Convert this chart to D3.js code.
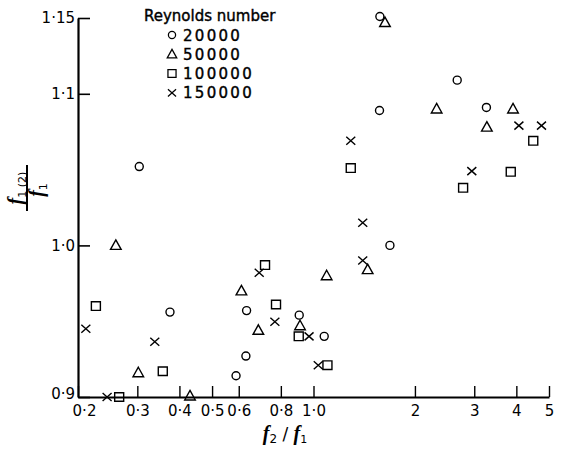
<html>
<head>
  <script src="https://cdn.jsdelivr.net/npm/d3@7"></script>
  <style>
    body { margin: 0; background: #fff; }
    text { font-family: "DejaVu Sans", sans-serif; fill: #000; }
  </style>
</head>
<body>

<svg class="chart" width="563" height="449"></svg>

<script>
  // values: [f2/f1, f1(2)/f1]
  var re20000 = [[0.304, 1.052], [0.375, 0.956], [0.589, 0.914], [0.630, 0.927], [0.633, 0.957],
    [0.907, 0.954], [1.076, 0.940], [1.574, 1.151], [1.57, 1.089], [1.686, 1.0], [2.67, 1.109], [3.26, 1.091]];
  var re50000 = [[0.259, 1.0], [0.302, 0.916], [0.430, 0.9007], [0.611, 0.970], [0.686, 0.944],
    [0.912, 0.947], [1.094, 0.980], [1.448, 0.984], [1.63, 1.147], [2.32, 1.090], [3.27, 1.078], [3.91, 1.090]];
  var re100000 = [[0.226, 0.960], [0.265, 0.9], [0.357, 0.917], [0.718, 0.987], [0.774, 0.961],
    [0.904, 0.940], [1.10, 0.921], [1.29, 1.051], [2.78, 1.038], [3.85, 1.0485], [4.49, 1.069]];
  var re150000 = [[0.211, 0.945], [0.244, 0.9], [0.338, 0.9365], [0.690, 0.982], [0.768, 0.9496],
    [0.970, 0.940], [1.033, 0.921], [1.29, 1.069], [1.40, 1.015], [1.40, 0.990], [2.95, 1.049],
    [4.07, 1.079], [4.75, 1.079]];

  var seriesNames = ['20000', '50000', '100000', '150000'];
  var seriesShapes = ['circle', 'triangle', 'square', 'cross'];
  var xTicks = [0.2, 0.3, 0.4, 0.5, 0.6, 0.8, 1, 2, 3, 4, 5];
  var yTicks = [0.9, 1.0, 1.1, 1.15];
  var yTickLabels = ['0·9', '1·0', '1·1', '1·15'];

  var svg = d3.select('svg.chart');
  svg.append('rect').attr('width', 563).attr('height', 449).attr('fill', '#fff');

  var x = d3.scaleLog().domain([0.2, 5]).range([78, 549]);
  var y = d3.scaleLinear().domain([0.9, 1.15]).range([397, 18]);

  // shape paths, centred on 0,0
  function shapePath(s) {
    if (s === 'circle') return 'M4,0A4,4 0 1,1 -4,0A4,4 0 1,1 4,0Z';
    if (s === 'triangle') return 'M0,-5.5L5.3,4L-5.3,4Z';
    if (s === 'square') return 'M-4.5,-4.3H4.5V4.3H-4.5Z';
    return 'M-4.5,-4L4.5,4M-4.5,4L4.5,-4';
  }

  var xAxis = d3.axisBottom(x)
    .tickValues(xTicks)
    .tickSizeInner(-11)
    .tickSizeOuter(0)
    .tickPadding(8)
    .tickFormat(function(d) { return d < 2 ? d3.format('.1f')(d).replace('.', '·') : String(d); });

  var gx = svg.append('g').attr('transform', 'translate(0,' + y(0.9) + ')').call(xAxis);
  gx.select('.domain').attr('stroke-width', 2.2);
  gx.selectAll('.tick line').attr('stroke-width', 1.4);
  gx.selectAll('.tick text').attr('font-size', 15).attr('font-family', 'DejaVu Sans')
    .attr('dx', function(d) { return d === 0.2 ? 6 : 0; });

  var yAxis = d3.axisLeft(y)
    .tickValues(yTicks)
    .tickSizeInner(-12)
    .tickSizeOuter(0)
    .tickPadding(3)
    .tickFormat(function(d, i) { return yTickLabels[i]; });

  var gy = svg.append('g').attr('transform', 'translate(' + x(0.2) + ',0)').call(yAxis);
  gy.select('.domain').attr('stroke-width', 2.2);
  gy.selectAll('.tick line').attr('stroke-width', 1.6);
  gy.selectAll('.tick text').attr('font-size', 15).attr('font-family', 'DejaVu Sans')
    .attr('y', function(d) { return d === 0.9 ? -3 : 0; });

  // points
  [re20000, re50000, re100000, re150000].forEach(function(data, i) {
    svg.append('g').selectAll('path')
      .data(data)
      .enter()
      .append('path')
      .attr('d', shapePath(seriesShapes[i]))
      .attr('transform', function(d) { return 'translate(' + x(d[0]) + ',' + y(d[1]) + ')'; })
      .attr('fill', 'none')
      .attr('stroke', '#000')
      .attr('stroke-width', 1.4);
  });

  // legend
  var legend = svg.append('g');
  legend.append('text')
    .attr('x', 144).attr('y', 21)
    .attr('font-size', 15)
    .attr('stroke', '#000').attr('stroke-width', 0.4)
    .text('Reynolds number');
  seriesNames.forEach(function(name, i) {
    var ly = 35 + i * 19.3;
    legend.append('path')
      .attr('d', shapePath(seriesShapes[i]))
      .attr('transform', 'translate(172,' + ly + ') scale(0.9)')
      .attr('fill', 'none').attr('stroke', '#000').attr('stroke-width', 1.4);
    legend.append('text')
      .attr('x', 183).attr('y', ly + 5.5)
      .attr('font-size', 15)
      .attr('letter-spacing', 2.3)
      .attr('stroke', '#000').attr('stroke-width', 0.4)
      .text(name);
  });

  // y label: f1(2) / f1 as a fraction
  var yl = svg.append('g').attr('transform', 'translate(27,188) rotate(-90)');
  var num = yl.append('text').attr('x', 0).attr('y', -5).attr('text-anchor', 'middle');
  num.append('tspan').attr('font-family', 'Liberation Serif').attr('font-style', 'italic')
    .attr('font-weight', 'bold').attr('font-size', 20).text('f');
  num.append('tspan').attr('font-size', 11).attr('dy', 4).text('1 (2)');
  yl.append('line').attr('x1', -23).attr('x2', 23).attr('y1', 0).attr('y2', 0)
    .attr('stroke', '#000').attr('stroke-width', 2);
  var den = yl.append('text').attr('x', -2).attr('y', 16).attr('text-anchor', 'middle');
  den.append('tspan').attr('font-family', 'Liberation Serif').attr('font-style', 'italic')
    .attr('font-weight', 'bold').attr('font-size', 20).text('f');
  den.append('tspan').attr('font-size', 11).attr('dy', 4).text('1');

  // x label: f2 / f1
  var xl = svg.append('text').attr('x', 285).attr('y', 440).attr('text-anchor', 'middle');
  xl.append('tspan').attr('font-family', 'Liberation Serif').attr('font-style', 'italic')
    .attr('font-weight', 'bold').attr('font-size', 20).text('f');
  xl.append('tspan').attr('font-size', 12).attr('dy', 3).text('2');
  xl.append('tspan').attr('font-size', 17).attr('dy', -3).text('  /  ');
  xl.append('tspan').attr('font-family', 'Liberation Serif').attr('font-style', 'italic')
    .attr('font-weight', 'bold').attr('font-size', 20).text('f');
  xl.append('tspan').attr('font-size', 11).attr('dy', 3).text('1');
</script>

</body>
</html>
